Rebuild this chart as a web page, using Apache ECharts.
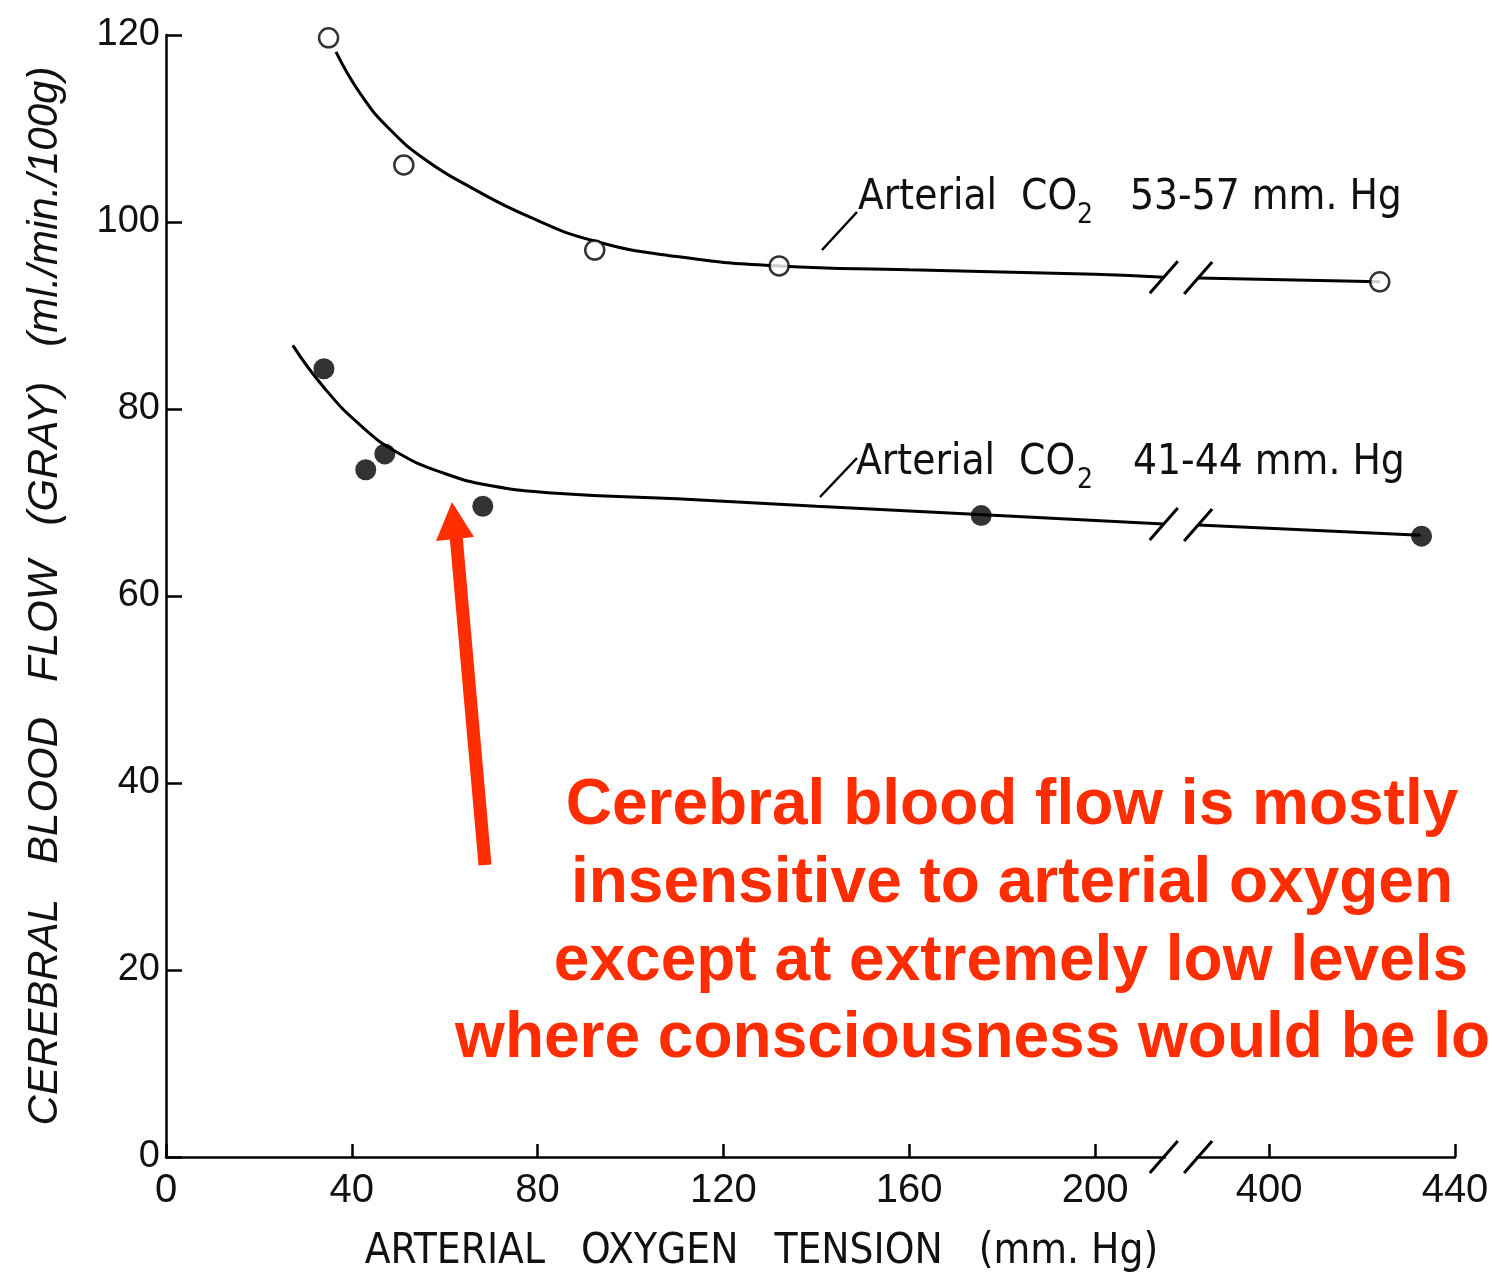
<!DOCTYPE html>
<html>
<head>
<meta charset="utf-8">
<script src="https://cdn.jsdelivr.net/npm/echarts@6/dist/echarts.min.js"></script>
<style>
html,body{margin:0;padding:0;background:#fff;overflow:hidden}
#m1{width:1492px;height:1281px}
</style>
</head>
<body>
<div id="m1"></div>
<script>
// tick labels on the broken x axis (real mm Hg values)
var xTicks=[0,40,80,120,160,200,400,440];

// measured points, 53-57 mm Hg CO2 (open circles)
var upperPtsX=[35,51.2,92.3,132,423.8];
var upperPtsY=[119.7,106.1,97.0,95.3,93.6];
// measured points, 41-44 mm Hg CO2 (filled circles)
var lowerPtsX=[34.0,43.0,47.1,68.2,175.5,432.8];
var lowerPtsY=[84.3,73.5,75.2,69.6,68.6,66.4];

// hand drawn fit curves, left and right of the break
var upperFitX=[36.6,42,48,56,66,78,92,110,132,160,200,214.8];
var upperFitY=[118.2,113.6,110.0,106.6,103.6,100.6,98.0,96.3,95.3,94.9,94.4,94.1];
var upperFitX2=[384.7,423.8];
var upperFitY2=[94.0,93.6];
var lowerFitX=[27.3,34,42,50,60,70,84,110,140,176,214.8];
var lowerFitY=[86.8,82.3,78.2,75.3,73.1,71.8,71.0,70.4,69.6,68.7,67.7];
var lowerFitX2=[384.7,432.6];
var lowerFitY2=[67.6,66.5];

// axis break: values above 300 are drawn shifted left
var SHIFT=162.5;
var breakLeft=214.8, breakRight=384.7;

function ax(x){return x>300?x-SHIFT:x;}
function pairs(xs,ys){return xs.map(function(x,i){return [ax(x),ys[i]];});}

var narrow="'Liberation Sans Narrow','DejaVu Sans Condensed',sans-serif";
var plain="'Liberation Sans',Arial,sans-serif";

var myChart=echarts.init(document.getElementById('m1'));
var fitLine={type:'line',smooth:0.5,showSymbol:false,symbol:'none',
    lineStyle:{color:'#000',width:3},z:2};
var option={
    animation:false,
    backgroundColor:'#fff',
    grid:{left:166,right:37,top:35,bottom:124},
    xAxis:{
        type:'value',min:0,max:ax(440),
        axisLine:{lineStyle:{color:'#000',width:2.5}},
        axisTick:{inside:true,length:13,customValues:xTicks.map(ax),lineStyle:{color:'#000',width:2.5}},
        axisLabel:{customValues:xTicks.map(ax),margin:14,color:'#111',fontFamily:plain,fontSize:40,
            formatter:function(v){return String(Math.round(v>218?v+SHIFT:v));}},
        splitLine:{show:false},
        name:'ARTERIAL   OXYGEN   TENSION   (mm. Hg)',
        nameLocation:'middle',nameGap:74,
        nameTextStyle:{fontFamily:narrow,fontSize:42,color:'#111',padding:[0,98,0,0]}
    },
    yAxis:{
        type:'value',min:0,max:120,interval:20,
        axisLine:{show:true,lineStyle:{color:'#000',width:2.5}},
        axisTick:{show:true,inside:true,length:16,lineStyle:{color:'#000',width:2.5}},
        axisLabel:{margin:6,color:'#111',fontFamily:plain,fontSize:38},
        splitLine:{show:false},
        name:'CEREBRAL   BLOOD   FLOW   (GRAY)   (ml./min./100g)',
        nameLocation:'middle',nameGap:100,
        nameTextStyle:{fontFamily:plain,fontStyle:'italic',fontSize:42,color:'#111'}
    },
    series:[
        Object.assign({name:'fit 53-57',data:pairs(upperFitX,upperFitY)},fitLine),
        Object.assign({name:'fit 53-57 b',data:pairs(upperFitX2,upperFitY2)},fitLine),
        Object.assign({name:'fit 41-44',data:pairs(lowerFitX,lowerFitY)},fitLine),
        Object.assign({name:'fit 41-44 b',data:pairs(lowerFitX2,lowerFitY2)},fitLine),
        {name:'CO2 53-57',type:'scatter',data:pairs(upperPtsX,upperPtsY),symbol:'circle',symbolSize:19,
            itemStyle:{color:'#fff',borderColor:'#000',borderWidth:2.5},z:5},
        {name:'CO2 41-44',type:'scatter',data:pairs(lowerPtsX,lowerPtsY),symbol:'circle',symbolSize:21,
            itemStyle:{color:'#000'},z:5}
    ]
};
myChart.setOption(option);

// break marks and annotations
function px(x,y){return myChart.convertToPixel({gridIndex:0},[x,y]);}
function slash(p){
    return {type:'line',z:100,shape:{x1:p[0]-14,y1:p[1]+16,x2:p[0]+14,y2:p[1]-16},
        style:{stroke:'#000',lineWidth:3}};
}
var bl=ax(breakLeft), br=ax(breakRight);
var a0=px(bl,0), a1=px(br,0);
var g=[];
g.push({type:'rect',z:99,shape:{x:a0[0]+2,y:a0[1]-5,width:a1[0]-a0[0]-4,height:10},style:{fill:'#fff'}});
g.push(slash(a0),slash(a1));
g.push(slash(px(bl,upperFitY[upperFitY.length-1])),slash(px(br,upperFitY2[0])));
g.push(slash(px(bl,lowerFitY[lowerFitY.length-1])),slash(px(br,lowerFitY2[0])));

function txt(x,y,s,font,fill,align){
    return {type:'text',z:100,x:x,y:y,style:{text:s,font:font,fill:fill||'#111',align:align||'left',verticalAlign:'middle'}};
}
var lblFont='42px '+narrow, subFont='28px '+narrow;
g.push(txt(858,198,'Arterial  CO',lblFont),txt(1077,216,'2',subFont),txt(1130,198,'53-57 mm. Hg',lblFont));
g.push(txt(856,463,'Arterial  CO',lblFont),txt(1077,481,'2',subFont),txt(1133,463,'41-44 mm. Hg',lblFont));
g.push({type:'line',z:100,shape:{x1:822,y1:250,x2:857,y2:212},style:{stroke:'#000',lineWidth:2.5}});
g.push({type:'line',z:100,shape:{x1:820,y1:497,x2:857,y2:458},style:{stroke:'#000',lineWidth:2.5}});

var red='#ff2d00';
g.push({type:'line',z:100,shape:{x1:485,y1:865,x2:456,y2:535},style:{stroke:red,lineWidth:13}});
g.push({type:'polygon',z:100,shape:{points:[[452,502],[436,541],[474,537]]},style:{fill:red}});
var note=['Cerebral blood flow is mostly','insensitive to arterial oxygen',
    'except at extremely low levels','where consciousness would be lost'];
var noteY=[806,884,962,1039];
var noteX=[1012,1012,1011,1001];
note.forEach(function(s,i){g.push(txt(noteX[i],noteY[i],s,'bold 64px '+plain,red,'center'));});

myChart.setOption({graphic:g});
</script>
</body>
</html>
